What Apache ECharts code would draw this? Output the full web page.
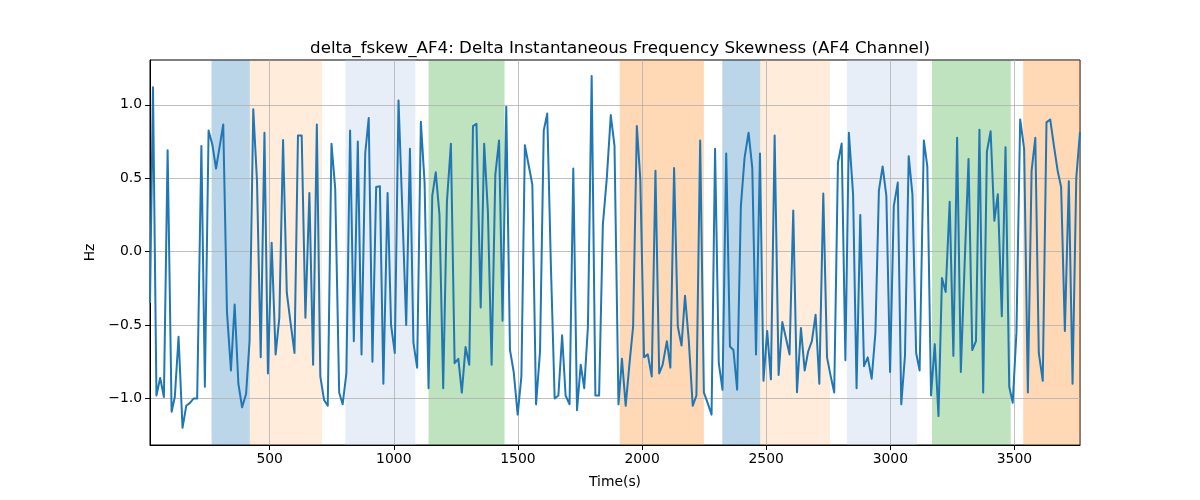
<!DOCTYPE html>
<html>
<head>
<meta charset="utf-8">
<script src="https://cdn.jsdelivr.net/npm/echarts@6/dist/echarts.min.js"></script>
<style>html,body{margin:0;padding:0;background:#fff}#c{width:1200px;height:500px}</style>
</head>
<body>
<div id="c"></div>
<script>
const titleText = 'delta_fskew_AF4: Delta Instantaneous Frequency Skewness (AF4 Channel)';
const xLabel = 'Time(s)';
const yLabel = 'Hz';
const times = [18,30,44,59,74,89,105,118,133,149,164,179,194,208,225,239,254,269,284,299,313,328,344,359,374,389,405,419,434,449,464,479,493,508,524,539,554,569,583,600,614,629,
644,660,675,690,704,719,734,749,764,780,794,809,824,839,855,870,885,899,914,929,944,958,975,989,1004,1019,1034,1050,1065,1079,1094,1109,1124,1140,1155,1169,1184,1199,1214,1230,1245,
1260,1274,1289,1304,1319,1333,1350,1364,1379,1394,1409,1424,1438,1453,1468,1483,1499,1514,1528,1543,1558,1573,1589,1604,1618,1633,1648,1663,1678,1692,1708,1723,1738,1753,1767,1782,1797,1812,1827,1842,1858,1874,
1889,1905,1919,1934,1949,1964,1979,1993,2008,2023,2039,2054,2069,2083,2100,2114,2129,2144,2159,2173,2188,2204,2219,2234,2249,2264,2280,2294,2309,2324,2339,2354,2368,2383,2398,2413,2429,2444,2459,2475,2489,2504,
2519,2534,2550,2565,2579,2594,2609,2624,2640,2655,2669,2684,2699,2714,2730,2745,2760,2774,2789,2804,2819,2833,2850,2864,2879,2894,2909,2925,2940,2954,2969,2984,2999,3014,3030,3044,3059,3074,3089,3104,3118,
3135,3149,3164,3179,3194,3208,3223,3239,3254,3269,3284,3299,3315,3330,3345,3359,3374,3389,3404,3419,3433,3449,3464,3479,3493,3508,3523,3539,3554,3569,3584,3598,3614,3629,3644,3659,3674,3688,3703,3719,3734,3749,3764];
const values = [-0.35,1.12,-0.98,-0.86,-0.99,0.69,-1.09,-0.99,-0.58,-1.20,-1.05,-1.03,-1.00,-1.00,0.72,-0.92,0.825,0.73,0.566,0.72,0.866,-0.41,-0.81,-0.36,-0.90,-1.06,-0.97,-0.61,0.97,0.48,-0.72,0.81,-0.83,0.06,-0.70,-0.45,0.76,-0.28,-0.47,-0.69,0.79,0.79,
-0.45,0.40,-0.77,0.866,-0.85,-1.01,-1.05,0.735,0.43,-0.96,-1.04,-0.83,0.825,-0.61,0.75,-0.70,0.67,0.91,-0.75,0.44,0.445,-0.90,0.40,-0.50,-0.69,1.03,0.30,-0.50,0.70,-0.62,-0.79,0.885,0.47,-0.93,0.38,0.54,0.25,-0.93,0.34,0.735,-0.76,
-0.73,-0.96,-0.65,-0.77,0.855,0.87,-0.38,0.735,0.275,-0.77,0.525,0.757,-0.47,0.987,-0.67,-0.82,-1.11,-0.85,0.725,0.59,0.457,-1.04,-0.68,0.825,0.94,-0.11,-1.00,-0.98,-0.57,-0.98,-1.04,0.566,-1.08,-0.77,-0.93,-0.51,1.196,-0.98,-0.98,0.18,0.50,0.93,
0.72,-1.04,-0.73,-1.05,-0.77,-0.51,0.855,0.49,-0.72,-0.70,-0.85,0.55,-0.83,-0.77,-0.61,-0.79,0.57,-0.51,-0.64,-0.30,-0.60,-1.05,-0.98,0.757,-0.96,-1.03,-1.11,0.70,-0.76,-0.94,0.668,-0.646,-0.67,-0.94,0.31,0.64,0.81,0.57,-0.70,0.668,-0.88,-0.54,
-0.87,0.79,-0.84,-0.48,-0.585,-0.70,0.28,-0.957,-0.52,-0.81,-0.68,-0.61,-0.43,-0.90,0.395,-0.72,-0.85,-0.96,0.605,0.737,-0.74,0.81,0.39,-0.93,0.25,-0.78,-0.72,-0.866,-0.55,0.416,0.58,0.38,-0.82,0.31,0.47,-1.04,-0.71,0.65,0.39,-0.69,-0.81,
0.757,0.58,-0.98,-0.63,-1.12,-0.18,-0.275,0.34,-0.71,0.775,-0.82,-0.10,0.63,-0.67,-0.61,0.83,-0.96,0.68,0.82,0.21,0.39,-0.44,0.71,-0.92,-1.03,-0.55,0.90,0.70,-0.96,0.55,0.775,-0.69,-0.88,0.88,0.90,0.72,0.55,0.44,-0.54,0.48,-0.90,0.50,0.815];
const xTicks = [500,1000,1500,2000,2500,3000,3500];
const yTicks = [-1.0,-0.5,0.0,0.5,1.0];
const bandStarts = [266,420,805,1140,1910,2323,2476,2825,3168,3535];
const bandEnds   = [420,711,1087,1446,2249,2476,2757,3108,3485,3766];
const bandKinds  = [0,1,2,3,4,0,1,2,3,4];
const bandPalette = ['rgba(31,119,180,0.3)','rgba(255,127,14,0.15)','rgba(174,199,232,0.3)','rgba(44,160,44,0.3)','rgba(255,127,14,0.3)'];

const xMin = times[0], xMax = times[times.length-1];
const yMin = -1.317, yMax = 1.305;
const font = 'DejaVu Sans';
const fmtY = v => (v < 0 ? '\u2212' : '') + Math.abs(v).toFixed(1);

const chart = echarts.init(document.getElementById('c'), null, {renderer: 'canvas'});
chart.setOption({
  animation: false,
  backgroundColor: '#fff',
  title: {
    text: titleText, left: 615, top: 35, textAlign: 'center',
    textStyle: {fontFamily: font, fontSize: 16.7, fontWeight: 'normal', color: '#000'}
  },
  grid: {left: 150, right: 120, top: 60, bottom: 55, show: true, borderColor: '#000', borderWidth: 1, backgroundColor: 'transparent', containLabel: false},
  xAxis: {
    type: 'value', min: xMin, max: xMax, z: 2,
    name: xLabel, nameLocation: 'middle', nameGap: 30,
    nameTextStyle: {fontFamily: font, fontSize: 13.9, color: '#000'},
    axisLine: {show: true, onZero: false, lineStyle: {color: '#000', width: 1}},
    axisTick: {show: true, length: 5, inside: false, lineStyle: {color: '#000'}, customValues: xTicks},
    axisLabel: {show: true, margin: 7, fontFamily: font, fontSize: 13.9, color: '#000', customValues: xTicks, formatter: v => String(v)},
    splitLine: {show: true, lineStyle: {color: '#b0b0b0', width: 0.8}}
  },
  yAxis: {
    type: 'value', min: yMin, max: yMax, z: 2,
    name: yLabel, nameLocation: 'middle', nameGap: 50, nameRotate: 90,
    nameTextStyle: {fontFamily: font, fontSize: 13.9, color: '#000'},
    axisLine: {show: true, onZero: false, lineStyle: {color: '#000', width: 1}},
    axisTick: {show: true, length: 5, inside: false, lineStyle: {color: '#000'}, customValues: yTicks},
    axisLabel: {show: true, margin: 8, fontFamily: font, fontSize: 13.9, color: '#000', customValues: yTicks, formatter: fmtY},
    splitLine: {show: true, lineStyle: {color: '#b0b0b0', width: 0.8}}
  },
  series: [
    {
      type: 'line', name: 'bands', data: [], z: 1, silent: true,
      markArea: {
        silent: true,
        data: bandStarts.map((s, i) => [
          {xAxis: s, itemStyle: {color: bandPalette[bandKinds[i]]}},
          {xAxis: bandEnds[i]}
        ])
      }
    },
    {
      type: 'line', name: 'delta_fskew_AF4', z: 3,
      data: times.map((t, i) => [t, values[i]]),
      showSymbol: false, clip: true,
      lineStyle: {color: '#1f77b4', width: 2, join: 'round'}
    }
  ]
});
</script>
</body>
</html>
